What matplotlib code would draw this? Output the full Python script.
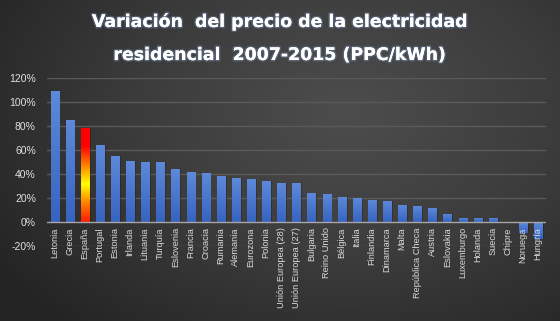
import numpy as np
import matplotlib
matplotlib.use("Agg")
import matplotlib.pyplot as plt
import matplotlib.patheffects as pe
from matplotlib.colors import LinearSegmentedColormap

countries = [
    "Letonia", "Grecia", "España", "Portugal", "Estonia", "Irlanda", "Lituania",
    "Turquía", "Eslovenia", "Francia", "Croacia", "Rumania", "Alemania",
    "Eurozona", "Polonia", "Unión Europea (28)", "Unión Europea (27)",
    "Bulgaria", "Reino Unido", "Bélgica", "Italia", "Finlandia", "Dinamarca",
    "Malta", "República Checa", "Austria", "Eslovakia", "Luxemburgo",
    "Holanda", "Suecia", "Chipre", "Noruega", "Hungría",
]
variation = [
    109.4, 85.3, 78.9, 64.4, 55.3, 51.1, 50.3, 50.3, 44.4, 41.9, 41.1, 38.6,
    36.9, 36.1, 34.4, 32.8, 32.8, 24.4, 23.6, 21.1, 20.3, 18.6, 17.8, 14.4,
    13.6, 11.9, 6.9, 3.6, 3.6, 3.6, -0.6, -9.0, -14.0,
]
highlight = "España"
y_ticks = [-20, 0, 20, 40, 60, 80, 100, 120]
title_lines = ["Variación  del precio de la electricidad",
               "residencial  2007-2015 (PPC/kWh)"]

fig = plt.figure(figsize=(5.6, 3.21), dpi=100)

# radial dark background
bg = fig.add_axes([0, 0, 1, 1])
yy, xx = np.mgrid[0:1:321j, 0:1:560j]
r = np.sqrt(((xx - 0.62) / 0.75) ** 2 + ((yy - 0.35) / 0.9) ** 2)
bg_cmap = LinearSegmentedColormap.from_list("bg", ["#4d4d4d", "#3c3c3c", "#242424"])
bg.imshow(r, cmap=bg_cmap, vmin=0, vmax=1.0, aspect="auto", extent=[0, 1, 0, 1])
bg.axis("off")

ax = fig.add_axes([0.0839, 0.2327, 0.8906, 0.5234])
ax.set_facecolor("none")
ax.set_axisbelow(False)  # tick labels (zorder 2.5) sit on top of the bars

x = np.arange(len(countries))
bars = ax.bar(x, variation, width=0.53, color="none", zorder=2)

blue = LinearSegmentedColormap.from_list("blue", ["#3563c0", "#5f8ada"])
fire = LinearSegmentedColormap.from_list(
    "fire", ["#ff1a00", "#ff8000", "#ffff00", "#ff8000", "#ff0000", "#ff0000"])
grad = np.linspace(0, 1, 256).reshape(-1, 1)

for name, bar in zip(countries, bars):
    x0 = bar.get_x()
    w = bar.get_width()
    h = bar.get_height()
    y0, y1 = sorted([0, h])
    # soft shadow
    ax.bar(x0 + w / 2 + 0.12, h, width=w, color="#1a1a1a", alpha=0.35, zorder=1.8)
    cmap = fire if name == highlight else blue
    img = ax.imshow(grad, cmap=cmap, aspect="auto", origin="lower",
                    extent=[x0, x0 + w, y0, y1], zorder=2)
    img.set_clip_path(bar)

ax.set_xlim(-0.5, len(countries) - 0.5)
ax.set_ylim(-20, 120)
# category labels hang from the zero line, not from the axes bottom
ax.spines["bottom"].set_position(("data", 0))
ax.tick_params(axis="both", length=0, colors="#d9d9d9")
ax.tick_params(axis="x", pad=3.5)
ax.tick_params(axis="y", pad=8)

ax.set_xticks(x)
ax.set_xticklabels(countries, rotation=90, family="Liberation Sans",
                   fontsize=6.7, color="#d9d9d9", va="top")
ax.set_yticks(y_ticks)
ax.set_yticklabels([f"{v}%" for v in y_ticks], family="Liberation Sans",
                   fontsize=7.5, color="#e0e0e0")

for v in y_ticks:
    if v != 0:
        ax.axhline(v, color="#5a5a5a", linewidth=1.0, zorder=1)
ax.axhline(0, color="#a6a6a6", linewidth=1.0, zorder=4)
for s in ax.spines.values():
    s.set_visible(False)

for line, yb in zip(title_lines, [0.916, 0.813]):
    fig.text(0.5, yb, line, ha="center", va="baseline", color="white",
             fontsize=12.5, fontweight="bold",
             path_effects=[pe.withStroke(linewidth=2.2, foreground="#5d6f8a", alpha=0.6),
                           pe.Normal()])

fig.savefig("out.png", dpi=100)
